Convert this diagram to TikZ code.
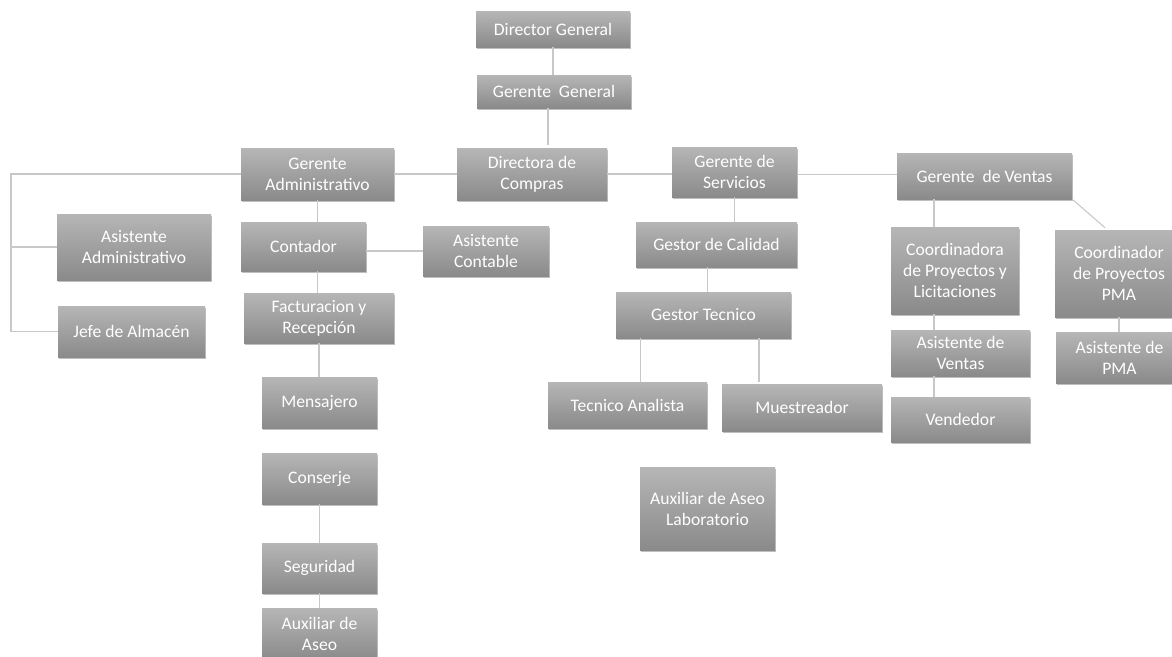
\documentclass[tikz,border=0pt]{standalone}
\usepackage{fontspec}
\setmainfont{Carlito}
\usetikzlibrary{shadows}
\definecolor{boxtop}{RGB}{182,182,182}
\definecolor{boxbot}{RGB}{138,138,138}
\definecolor{linkgray}{RGB}{200,200,200}
\tikzset{
  orgbox/.style={rectangle, top color=boxtop, bottom color=boxbot, draw=none,
    text=white, align=center, inner sep=0pt,
    font=\fontsize{13.2}{15.8}\selectfont,
    drop shadow={shadow xshift=0.6pt, shadow yshift=-1.2pt, opacity=0.25, fill=black}},
  link/.style={draw=linkgray, line width=0.8pt}
}
\newcommand\orgbox[6]{\node[orgbox, minimum width={(#4-#2)*0.75pt}, minimum height={(#5-#3)*0.75pt}] (#1) at ({(#2+#4)/2},{(#3+#5)/2}) {#6};}
\begin{document}
\begin{tikzpicture}[x=0.75pt,y=-0.75pt]
\useasboundingbox (0,0) rectangle (1172,657);
\fill[white] (0,0) rectangle (1172,657);
\clip (0,0) rectangle (1172,657);
% boxes
\orgbox{dg}{476}{11}{630}{47}{Director General}
\orgbox{gg}{477}{75}{631}{108}{Gerente\ \ General}
\orgbox{dc}{457}{148}{607}{200}{Directora de\\Compras}
\orgbox{gs}{672}{147}{797}{197}{Gerente de\\Servicios}
\orgbox{gv}{897}{153}{1072}{199}{Gerente\ \ de Ventas}
\orgbox{ga}{241}{148}{394}{200}{Gerente\\Administrativo}
\orgbox{aa}{57}{214}{211}{280}{Asistente\\Administrativo}
\orgbox{ja}{58}{306}{205}{357}{Jefe de Almacén}
\orgbox{ct}{241}{222}{366}{271}{Contador}
\orgbox{ac}{423}{226}{549}{276}{Asistente\\Contable}
\orgbox{fr}{244}{293}{394}{343}{Facturacion y\\Recepción}
\orgbox{ms}{262}{377}{377}{428}{Mensajero}
\orgbox{cs}{262}{453}{377}{504}{Conserje}
\orgbox{sg}{262}{543}{377}{593}{Seguridad}
\orgbox{ax}{262}{608}{377}{660}{Auxiliar de\\Aseo}
\orgbox{gc}{636}{222}{797}{267}{Gestor de Calidad}
\orgbox{gt}{616}{292}{791}{338}{Gestor Tecnico}
\orgbox{ta}{548}{382}{707}{428}{Tecnico Analista}
\orgbox{mu}{722}{384}{882}{431}{Muestreador}
\orgbox{al}{640}{467}{775}{550}{Auxiliar de Aseo\\Laboratorio}
\orgbox{cpl}{891}{227}{1019}{314}{Coordinadora\\de Proyectos y\\Licitaciones}
\orgbox{cpma}{1055}{230}{1183}{317}{Coordinador\\de Proyectos\\PMA}
\orgbox{av}{891}{330}{1030}{376}{Asistente de\\Ventas}
\orgbox{apma}{1056}{332}{1183}{383}{Asistente de\\PMA}
\orgbox{vd}{891}{397}{1030}{442}{Vendedor}
% connectors
\coordinate (L) at (11,174);
\draw[link] (dg.south) -- (dg.south |- gg.north);
\draw[link] ([xshift=-4.5pt]gg.south) -- ([xshift=-4.5pt,yshift=2pt]gg.south |- dc.north);
\draw[link] (ga.east) -- (dc.west);
\draw[link] (dc.east) -- (dc.east -| gs.west);
\draw[link] ([yshift=-2pt]gs.east) -- ([yshift=-2pt]gs.east -| gv.west);
\draw[link] (ga.west) -- (L) -- (L |- ja.west) -- (ja.west);
\draw[link] (L |- aa.west) -- (aa.west);
\draw[link] (ga.south) -- (ga.south |- ct.north);
\draw[link] (ga.south |- ct.south) -- (ga.south |- fr.north);
\draw[link] (ac.west -| ct.east) -- (ac.west);
\draw[link] (fr.south) -- (fr.south |- ms.north);
\draw[link] (cs.south) -- (sg.north);
\draw[link] (sg.south) -- (ax.north);
\draw[link] (gs.south) -- (gs.south |- gc.north);
\draw[link] ([xshift=-7pt]gc.south) -- ([xshift=-7pt]gc.south |- gt.north);
\draw[link] ([xshift=9.4pt]ta.north) -- ([xshift=9.4pt]ta.north |- gt.south);
\draw[link] ([xshift=-32.25pt,yshift=1.5pt]mu.north) -- ([xshift=-32.25pt]mu.north |- gt.south);
\draw[link] ([xshift=-15.75pt]cpl.north) -- ([xshift=-15.75pt]cpl.north |- gv.south);
\draw[link] ([xshift=-15.75pt]cpl.south) -- ([xshift=-15.75pt]cpl.south |- av.north);
\draw[link] ([xshift=-15.75pt]cpl.south |- av.south) -- ([xshift=-15.75pt]cpl.south |- vd.north);
\draw[link] (gv.south east) -- ([xshift=-10.5pt,yshift=1.5pt]cpma.north);
\draw[link] (cpma.south) -- (cpma.south |- apma.north);
\end{tikzpicture}
\end{document}
